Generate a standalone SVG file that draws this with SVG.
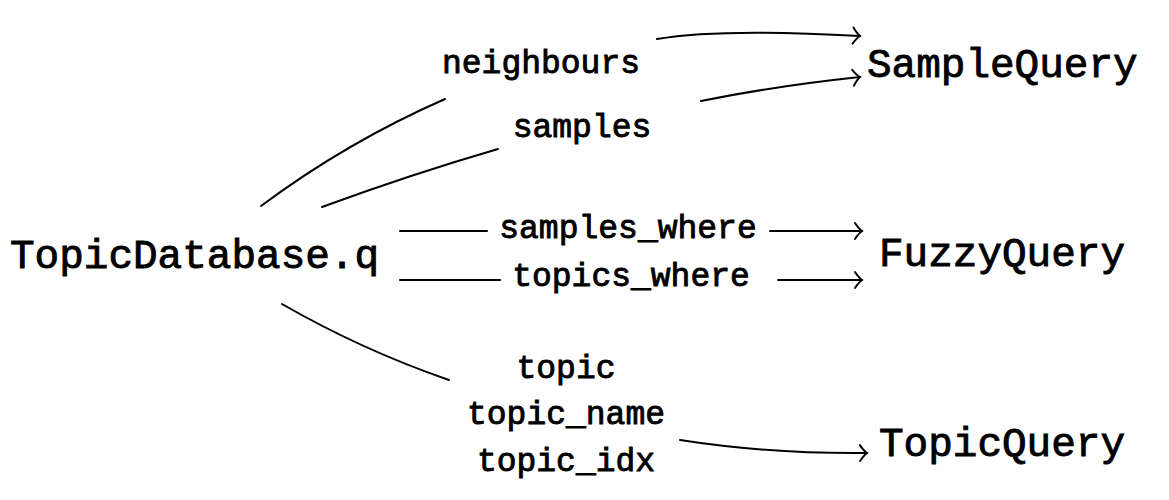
<svg xmlns="http://www.w3.org/2000/svg" width="1169" height="500" viewBox="0 0 1169 500">
<style>
.node{font-family:"Liberation Mono","DejaVu Sans Mono",monospace;font-weight:normal;font-size:41px;fill:#000;stroke:#000;stroke-width:0.9}
.lbl{font-family:"Liberation Mono","DejaVu Sans Mono",monospace;font-weight:normal;font-size:33px;fill:#000;stroke:#000;stroke-width:0.9;text-anchor:middle}
.e{fill:none;stroke:#000;stroke-width:2;stroke-linecap:round}
.a{marker-end:url(#ah)}
</style>
<defs>
<marker id="ah" markerUnits="userSpaceOnUse" markerWidth="20" markerHeight="20" refX="0" refY="0" orient="auto" overflow="visible" viewBox="-10 -10 20 20">
<path d="M -7,-8 Q -3,-2 0,0 Q -3,2 -7,8" fill="none" stroke="#000" stroke-width="2" stroke-linecap="round"/>
</marker>
</defs>
<rect width="1169" height="500" fill="#fff"/>
<g id="connectors">
<path class="e" d="M 261,206 Q 347,142 445,99"/>
<path class="e a" d="M 657,39 Q 720,28 860,36"/>
<path class="e" d="M 322,207 Q 412,174 498,149"/>
<path class="e a" d="M 701,101 Q 775,86 860,77"/>
<path class="e" d="M 400,231 L 487,231"/>
<path class="e a" d="M 770,231 L 862,231"/>
<path class="e" d="M 400,280 L 500,280"/>
<path class="e a" d="M 778,280 L 862,280"/>
<path class="e" d="M 282,304 Q 362,350 449,380"/>
<path class="e a" d="M 680,440 Q 770,454 867,453"/>
</g>
<g id="labels">
<text class="lbl" x="541" y="73">neighbours</text>
<text class="lbl" x="582" y="137">samples</text>
<text class="lbl" x="628" y="238">samples_where</text>
<text class="lbl" x="631" y="286">topics_where</text>
<text class="lbl" x="566" y="378">topic</text>
<text class="lbl" x="566" y="424">topic_name</text>
<text class="lbl" x="566" y="471">topic_idx</text>
</g>
<g id="TopicDatabase"><text class="node" x="10" y="268">TopicDatabase.q</text></g>
<g id="SampleQuery"><text class="node" x="867" y="77">SampleQuery</text></g>
<g id="FuzzyQuery"><text class="node" x="879" y="266">FuzzyQuery</text></g>
<g id="TopicQuery"><text class="node" x="879" y="456">TopicQuery</text></g>
</svg>
